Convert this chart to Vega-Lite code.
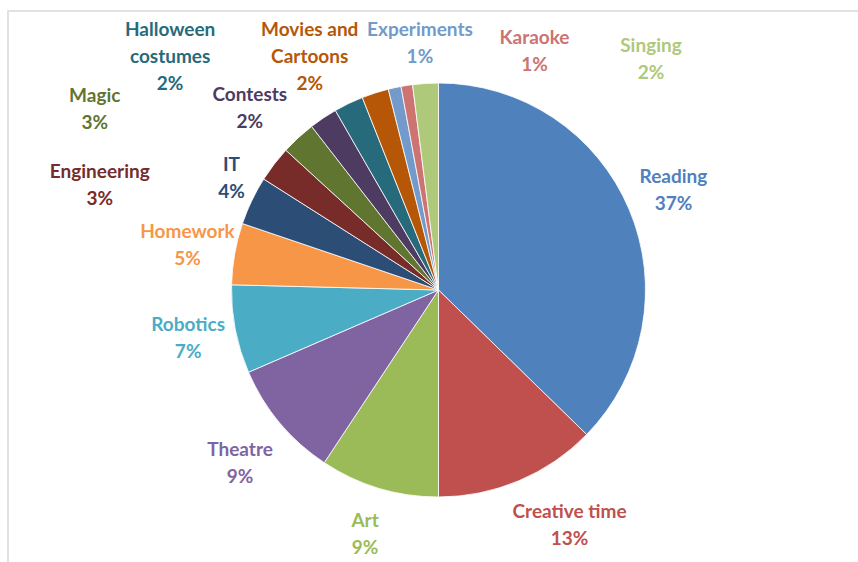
{
  "$schema": "https://vega.github.io/schema/vega-lite/v6.json",
  "width": 858,
  "height": 562,
  "autosize": {"type": "fit", "contains": "padding"},
  "padding": {"left": 7, "top": 10, "right": -12, "bottom": -8},
  "background": "white",
  "config": {
    "view": {"stroke": null},
    "text": {"font": "Lato", "fontSize": 19, "fontWeight": "bold", "lineBreak": "\n", "lineHeight": 27}
  },
  "data": {
    "values": [
      {"name": "Reading", "value": 37.3},
      {"name": "Creative time", "value": 12.7},
      {"name": "Art", "value": 9.3},
      {"name": "Theatre", "value": 9.2},
      {"name": "Robotics", "value": 6.9},
      {"name": "Homework", "value": 4.8},
      {"name": "IT", "value": 3.8},
      {"name": "Engineering", "value": 2.8},
      {"name": "Magic", "value": 2.7},
      {"name": "Contests", "value": 2.2},
      {"name": "Halloween costumes", "value": 2.3},
      {"name": "Movies and Cartoons", "value": 2.1},
      {"name": "Experiments", "value": 1.0},
      {"name": "Karaoke", "value": 0.9},
      {"name": "Singing", "value": 2.0}
    ]
  },
  "transform": [
    {"window": [{"op": "row_number", "as": "idx"}]},
    {"stack": "value", "groupby": [], "sort": [{"field": "idx", "order": "ascending"}], "as": ["v0", "v1"]},
    {"calculate": "(datum.v0 + datum.v1) / 2", "as": "mid"},
    {"calculate": "(datum.name === 'Halloween costumes' ? 'Halloween\\ncostumes' : datum.name === 'Movies and Cartoons' ? 'Movies and\\nCartoons' : datum.name) + '\\n' + format(datum.value, '.0f') + '%'", "as": "label"}
  ],
  "encoding": {
    "color": {
      "field": "name",
      "type": "nominal",
      "legend": null,
      "scale": {
        "domain": ["Reading", "Creative time", "Art", "Theatre", "Robotics", "Homework", "IT", "Engineering", "Magic", "Contests", "Halloween costumes", "Movies and Cartoons", "Experiments", "Karaoke", "Singing"],
        "range": ["#4F81BD", "#C0504D", "#9BBB59", "#8064A2", "#4BACC6", "#F79646", "#2C4D75", "#772C2A", "#5F7530", "#4D3B62", "#276A7C", "#B65708", "#729ACA", "#CD7371", "#AFC97A"]
      }
    }
  },
  "layer": [
    {
      "transform": [{"filter": "datum.idx === 1"}],
      "mark": {"type": "rect", "fillOpacity": 0, "stroke": "#d9d9d9", "strokeWidth": 1.5},
      "encoding": {}
    },
    {
      "mark": {"type": "arc", "outerRadius": 207, "stroke": "white", "strokeWidth": 0.8},
      "encoding": {
        "theta": {"field": "v0", "type": "quantitative", "stack": null, "scale": {"domain": [0, 100]}},
        "theta2": {"field": "v1"}
      }
    },
    {
      "transform": [{"filter": {"field": "name", "oneOf": ["Reading", "Art", "Robotics", "Homework"]}}],
      "mark": {"type": "text", "radius": 255, "dy": -13.5},
      "encoding": {"theta": {"field": "mid", "type": "quantitative", "stack": null}, "text": {"field": "label"}}
    },
    {
      "transform": [{"filter": {"field": "name", "equal": "Theatre"}}],
      "mark": {"type": "text", "radius": 255, "dx": -3, "dy": -4},
      "encoding": {"theta": {"field": "mid", "type": "quantitative", "stack": null}, "text": {"field": "label"}}
    },
    {
      "transform": [{"filter": {"field": "name", "equal": "Creative time"}}],
      "mark": {"type": "text", "radius": 255, "dx": 32, "dy": -12.5},
      "encoding": {"theta": {"field": "mid", "type": "quantitative", "stack": null}, "text": {"field": "label"}}
    },
    {
      "transform": [{"filter": {"field": "name", "equal": "IT"}}],
      "mark": {"type": "text", "radius": 255, "dx": 23, "dy": -14.5},
      "encoding": {"theta": {"field": "mid", "type": "quantitative", "stack": null}, "text": {"field": "label"}}
    },
    {
      "transform": [{"filter": {"field": "name", "equal": "Engineering"}}],
      "mark": {"type": "text", "radius": 215, "dx": -168, "dy": 12.5},
      "encoding": {"theta": {"field": "mid", "type": "quantitative", "stack": null}, "text": {"field": "label"}}
    },
    {
      "transform": [{"filter": {"field": "name", "equal": "Magic"}}],
      "mark": {"type": "text", "radius": 215, "dx": -198, "dy": -35.5},
      "encoding": {"theta": {"field": "mid", "type": "quantitative", "stack": null}, "text": {"field": "label"}}
    },
    {
      "transform": [{"filter": {"field": "name", "equal": "Contests"}}],
      "mark": {"type": "text", "radius": 215, "dx": -69, "dy": -16.5},
      "encoding": {"theta": {"field": "mid", "type": "quantitative", "stack": null}, "text": {"field": "label"}}
    },
    {
      "transform": [{"filter": {"field": "name", "equal": "Halloween costumes"}}],
      "mark": {"type": "text", "radius": 215, "dx": -175, "dy": -66},
      "encoding": {"theta": {"field": "mid", "type": "quantitative", "stack": null}, "text": {"field": "label"}}
    },
    {
      "transform": [{"filter": {"field": "name", "equal": "Movies and Cartoons"}}],
      "mark": {"type": "text", "radius": 215, "dx": -63, "dy": -55},
      "encoding": {"theta": {"field": "mid", "type": "quantitative", "stack": null}, "text": {"field": "label"}}
    },
    {
      "transform": [{"filter": {"field": "name", "equal": "Experiments"}}],
      "mark": {"type": "text", "radius": 215, "dx": 27, "dy": -49.5},
      "encoding": {"theta": {"field": "mid", "type": "quantitative", "stack": null}, "text": {"field": "label"}}
    },
    {
      "transform": [{"filter": {"field": "name", "equal": "Karaoke"}}],
      "mark": {"type": "text", "radius": 215, "dx": 129, "dy": -39.5},
      "encoding": {"theta": {"field": "mid", "type": "quantitative", "stack": null}, "text": {"field": "label"}}
    },
    {
      "transform": [{"filter": {"field": "name", "equal": "Singing"}}],
      "mark": {"type": "text", "radius": 215, "dx": 226, "dy": -29.5},
      "encoding": {"theta": {"field": "mid", "type": "quantitative", "stack": null}, "text": {"field": "label"}}
    }
  ]
}
